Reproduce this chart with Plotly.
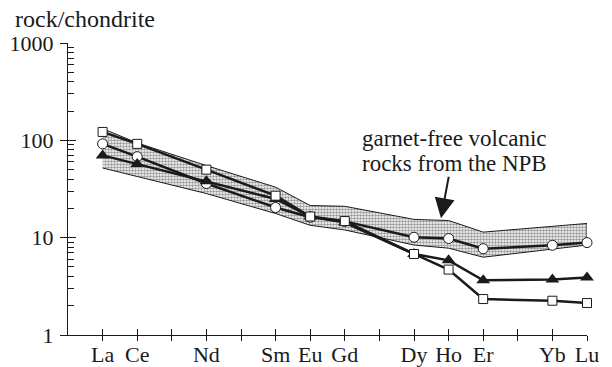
import plotly.graph_objects as go

# Rare earth elements in order of atomic number (x positions)
ELEMENTS = ["La", "Ce", "Pr", "Nd", "Pm", "Sm", "Eu", "Gd", "Tb", "Dy", "Ho", "Er", "Tm", "Yb", "Lu"]
LABELED = ["La", "Ce", "Nd", "Sm", "Eu", "Gd", "Dy", "Ho", "Er", "Yb", "Lu"]

# Chondrite-normalized abundances
squares = [122, 92, 50, 27, 16.5, 14.8, 6.8, 4.7, 2.34, 2.25, 2.13]
circles = [92, 68, 36, 20.4, 16.2, 14.7, 10.1, 9.8, 7.7, 8.35, 8.9]
triangles = [70, 57, 38, 25, 16.5, 14.3, 6.8, 5.85, 3.65, 3.72, 3.9]

# Field of garnet-free volcanic rocks from the NPB
band_upper = [132, 94, 55, 33, 21.4, 21, 15.4, 15, 11.4, 13.2, 14]
band_lower = [52, 42.5, 28.4, 17.7, 13.4, 12, 8.4, 7.8, 6.3, 7.6, 8.4]

# Y-axis ticks
major_ticks = [1, 10, 100, 1000]
minor_ticks = [m * d for d in (1, 10, 100) for m in range(2, 10)]

xpos = [ELEMENTS.index(e) for e in LABELED]

FONT = "Liberation Serif"
INK = "#1a1a1a"

fig = go.Figure()

fig.add_trace(go.Scatter(
    x=xpos + xpos[::-1],
    y=band_upper + band_lower[::-1],
    mode="lines",
    fill="toself",
    fillcolor="white",
    fillpattern=dict(shape=".", fgcolor="#333333", bgcolor="white", size=3, solidity=0.55),
    line=dict(color=INK, width=1),
    hoverinfo="skip",
))

fig.add_trace(go.Scatter(
    x=xpos, y=circles, mode="lines+markers", cliponaxis=False,
    line=dict(color=INK, width=2.5),
    marker=dict(symbol="circle", size=10, color="white", line=dict(color=INK, width=1)),
))
fig.add_trace(go.Scatter(
    x=xpos, y=triangles, mode="lines+markers", cliponaxis=False,
    line=dict(color=INK, width=2.5),
    marker=dict(symbol="triangle-up", size=12, color=INK, line=dict(color=INK, width=0)),
))
fig.add_trace(go.Scatter(
    x=xpos, y=squares, mode="lines+markers", cliponaxis=False,
    line=dict(color=INK, width=2.5),
    marker=dict(symbol="square", size=9, color="white", line=dict(color=INK, width=1)),
))

ticktext = [e if e in LABELED else "" for e in ELEMENTS]

fig.update_layout(
    width=612, height=367,
    margin=dict(l=68, r=25, t=43, b=32, autoexpand=False),
    paper_bgcolor="white", plot_bgcolor="white",
    showlegend=False,
    font=dict(family=FONT, size=22, color=INK),
    xaxis=dict(
        range=[-1, 14], tickvals=list(range(len(ELEMENTS))), ticktext=ticktext,
        showgrid=False, zeroline=False, showline=True, linecolor=INK, linewidth=1,
        ticks="inside", ticklen=6, tickwidth=1, tickcolor=INK,
        tickfont=dict(family=FONT, size=22, color=INK),
    ),
    xaxis2=dict(
        range=[-1, 14], tickvals=list(range(len(ELEMENTS))), overlaying="x",
        anchor="y", side="bottom", showticklabels=False, showgrid=False, zeroline=False,
        ticks="outside", ticklen=5, tickwidth=1, tickcolor=INK,
    ),
    yaxis=dict(
        type="log", range=[0, 3], tickvals=major_ticks, ticktext=[str(v) for v in major_ticks],
        showgrid=False, zeroline=False, showline=True, linecolor=INK, linewidth=1,
        ticks="inside", ticklen=8, tickwidth=1, tickcolor=INK,
        tickfont=dict(family=FONT, size=22, color=INK),
        ticklabelstandoff=9,
        minor=dict(tickmode="array", tickvals=minor_ticks, ticks="inside", ticklen=6,
                   tickwidth=1, tickcolor=INK, showgrid=False),
    ),
    yaxis2=dict(
        type="log", range=[0, 3], tickvals=major_ticks, overlaying="y",
        anchor="x", side="left", showticklabels=False, showgrid=False, zeroline=False,
        ticks="outside", ticklen=7, tickwidth=1, tickcolor=INK,
    ),
)

# empty trace bound to the overlay axes so their ticks are drawn
fig.add_trace(go.Scatter(x=[None], y=[None], xaxis="x2", yaxis="y2", hoverinfo="skip"))

def px_x(p):
    return (p - 68) / 519.0

def px_y(p):
    return (335 - p) / 292.0

fig.add_annotation(
    text="rock/chondrite", xref="paper", yref="paper",
    x=px_x(13), y=px_y(19), xanchor="left", yanchor="middle", showarrow=False,
    font=dict(family=FONT, size=24, color=INK),
)
fig.add_annotation(
    text="garnet-free volcanic", xref="paper", yref="paper",
    x=px_x(454), y=px_y(138), xanchor="center", yanchor="middle", showarrow=False,
    font=dict(family=FONT, size=23, color=INK),
)
fig.add_annotation(
    text="rocks from the NPB", xref="paper", yref="paper",
    x=px_x(454), y=px_y(163), xanchor="center", yanchor="middle", showarrow=False,
    font=dict(family=FONT, size=23, color=INK),
)
fig.add_annotation(
    text="", x=9.78, y=1.2, xref="x", yref="y",
    showarrow=True, ax=8, ay=-43, arrowhead=2, arrowsize=2.0, arrowwidth=2.0,
    arrowcolor=INK, standoff=0,
)

fig.write_html("out.html")
